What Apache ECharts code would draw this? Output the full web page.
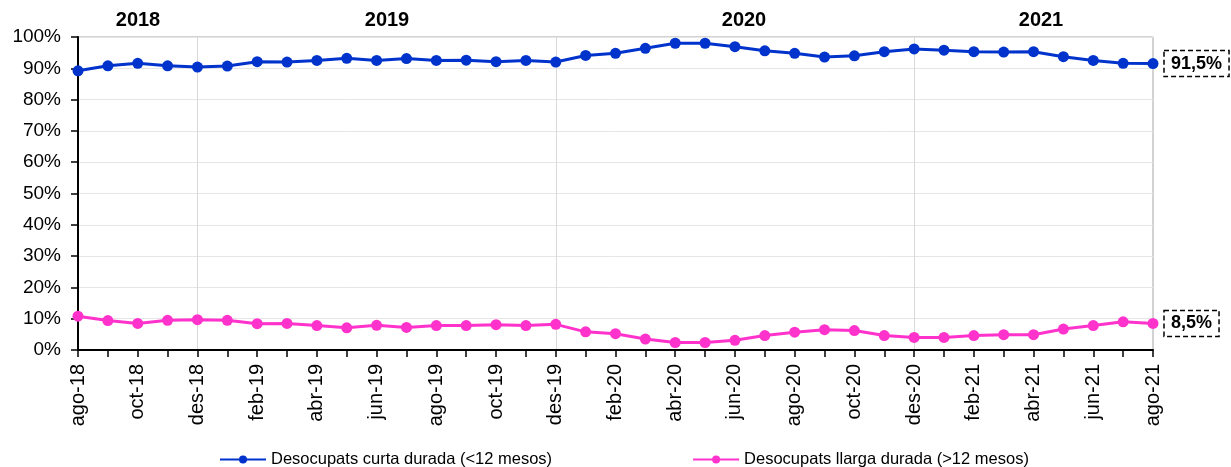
<!DOCTYPE html>
<html>
<head>
<meta charset="utf-8">
<script src="https://cdn.jsdelivr.net/npm/echarts@6/dist/echarts.min.js"></script>
<style>
  html, body { margin: 0; padding: 0; background: #fff; }
  #chart { width: 1231px; height: 467px; }
</style>
</head>
<body>
<div id="chart"></div>
<script>
// Desocupats segons durada de l'atur, ago-18 a ago-21 (% sobre el total)
const months = [
  'ago-18', 'set-18', 'oct-18', 'nov-18', 'des-18',
  'gen-19', 'feb-19', 'mar-19', 'abr-19', 'mai-19', 'jun-19', 'jul-19', 'ago-19', 'set-19', 'oct-19', 'nov-19', 'des-19',
  'gen-20', 'feb-20', 'mar-20', 'abr-20', 'mai-20', 'jun-20', 'jul-20', 'ago-20', 'set-20', 'oct-20', 'nov-20', 'des-20',
  'gen-21', 'feb-21', 'mar-21', 'abr-21', 'mai-21', 'jun-21', 'jul-21', 'ago-21'
];
const curtaDurada = [
  89.2, 90.8, 91.6, 90.8, 90.4,
  90.7, 92.1, 92.0, 92.5, 93.2, 92.5, 93.1, 92.5, 92.6, 92.1, 92.5, 92.0,
  94.1, 94.8, 96.4, 98.0, 98.0, 96.9, 95.6, 94.8, 93.6, 94.0, 95.3, 96.2,
  95.8, 95.3, 95.2, 95.3, 93.7, 92.5, 91.6, 91.5
];
const llargaDurada = [
  10.8, 9.4, 8.5, 9.5, 9.7,
  9.5, 8.4, 8.5, 7.8, 7.1, 7.9, 7.2, 7.8, 7.8, 8.1, 7.8, 8.2,
  5.8, 5.2, 3.5, 2.4, 2.4, 3.1, 4.6, 5.7, 6.5, 6.2, 4.6, 4.0,
  4.0, 4.6, 4.9, 4.9, 6.7, 7.8, 9.0, 8.5
];
const yearLabels = ['2018', '2019', '2020', '2021'];
const yearLabelX = [138, 387, 744, 1041];

const FONT = '"Liberation Sans", Arial, sans-serif';

const fmtPct = v => v.toFixed(1).replace('.', ',') + '%';

// etiqueta final amb caixa discontínua
const endLabel = {
  show: true,
  formatter: p => fmtPct(p.value),
  distance: 11,
  color: '#000',
  fontFamily: FONT,
  fontWeight: 'bold',
  fontSize: 18,
  borderColor: '#000',
  borderWidth: 1.5,
  borderType: [5, 3],
  padding: [5, 7, 3, 7],
};

const chart = echarts.init(document.getElementById('chart'), null, { renderer: 'canvas' });

chart.setOption({
  backgroundColor: '#fff',
  animation: false,
  grid: {
    left: 78, right: 78, top: 37, bottom: 117,
    show: true, borderColor: '#a6a6a6', borderWidth: 1,
  },
  legend: {
    data: ['Desocupats curta durada (<12 mesos)', 'Desocupats llarga durada (>12 mesos)'],
    left: 214,
    top: 446,
    itemWidth: 46,
    itemHeight: 10,
    itemGap: 140,
    textStyle: { color: '#000', fontFamily: FONT, fontSize: 16.5 },
  },
  xAxis: {
    type: 'category',
    data: months,
    boundaryGap: false,
    axisLine: { lineStyle: { color: '#000', width: 2 } },
    axisTick: { show: true, interval: 0, length: 7, lineStyle: { color: '#000', width: 1.5 } },
    axisLabel: {
      interval: 1,
      rotate: 90,
      margin: 14,
      color: '#000',
      fontFamily: FONT,
      fontSize: 20,
    },
    // línies verticals als mesos de desembre
    splitLine: {
      show: true,
      interval: (i, v) => v.startsWith('des'),
      lineStyle: { color: '#d9d9d9', width: 1 },
    },
  },
  yAxis: {
    type: 'value',
    min: 0,
    max: 100,
    interval: 10,
    axisLine: { show: true, lineStyle: { color: '#000', width: 2 } },
    axisTick: { show: true, length: 7, lineStyle: { color: '#000', width: 1.5 } },
    axisLabel: {
      formatter: '{value}%',
      margin: 17,
      color: '#000',
      fontFamily: FONT,
      fontSize: 19,
    },
    splitLine: { lineStyle: { color: '#e6e6e6', width: 1 } },
  },
  series: [
    {
      name: 'Desocupats curta durada (<12 mesos)',
      type: 'line',
      data: curtaDurada,
      symbol: 'circle',
      symbolSize: 11,
      z: 3,
      lineStyle: { color: '#0033cc', width: 3 },
      itemStyle: { color: '#0033cc' },
      endLabel,
    },
    {
      name: 'Desocupats llarga durada (>12 mesos)',
      type: 'line',
      data: llargaDurada,
      symbol: 'circle',
      symbolSize: 11,
      z: 3,
      lineStyle: { color: '#ff33cc', width: 3 },
      itemStyle: { color: '#ff33cc' },
      endLabel,
    },
  ],
  graphic: yearLabels.map((t, i) => ({
    type: 'text',
    x: yearLabelX[i],
    y: 20,
    style: {
      text: t,
      fill: '#000',
      font: 'bold 20px ' + FONT,
      textAlign: 'center',
      textVerticalAlign: 'middle',
    },
  })),
});
</script>
</body>
</html>
